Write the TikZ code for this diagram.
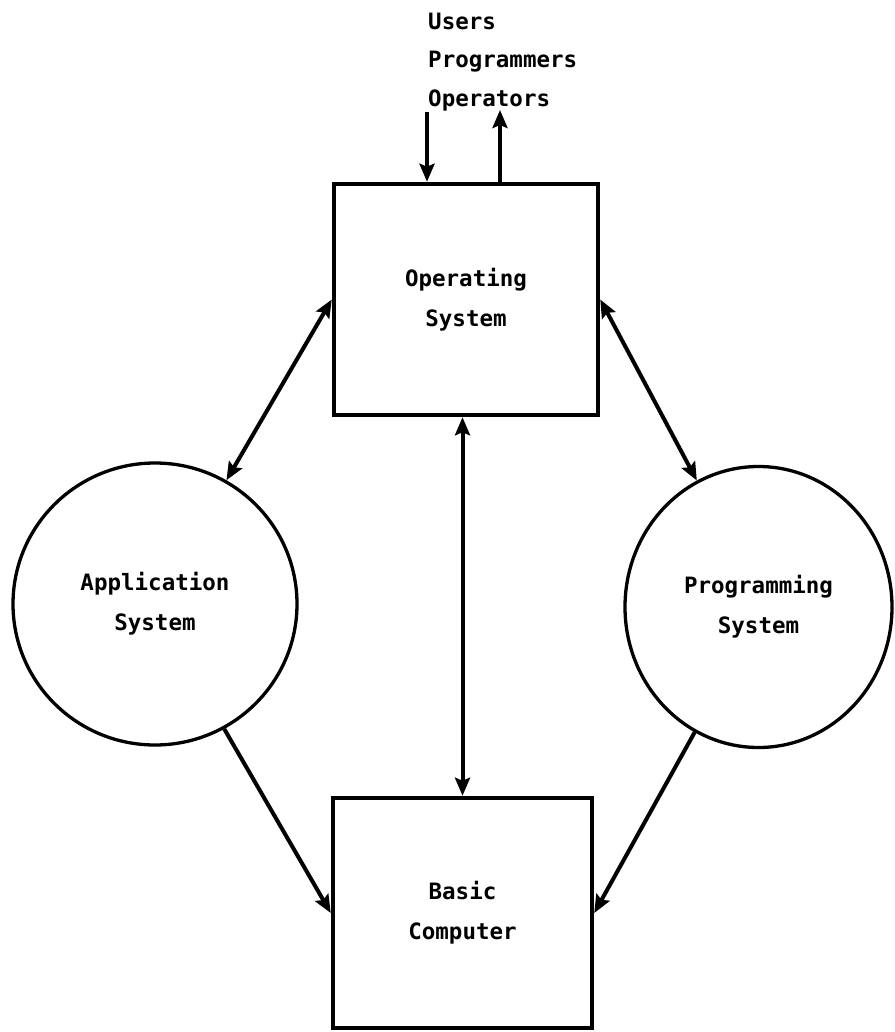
\documentclass[tikz,border=0pt]{standalone}
\usepackage{fontspec}
\setmonofont{DejaVu Sans Mono}
\usetikzlibrary{arrows.meta,shapes.geometric}
\begin{document}
\begin{tikzpicture}[x=1pt,y=-1pt,
  >={Stealth[length=18pt,width=15pt,inset=3pt]},
  lbl/.style={font=\ttfamily\bfseries\fontsize{22.5}{40}\selectfont},
  blk/.style={draw, line width=4.5pt, inner sep=0pt, align=center, lbl},
  bub/.style={draw, ellipse, line width=3.3pt, inner sep=0pt, align=center, lbl},
  conn/.style={line width=4pt}
]
\useasboundingbox (0,0) rectangle (894,1032);

% blocks and bubbles
\node[blk, minimum width=264pt, minimum height=231pt] (os) at (466,299.5) {Operating\\System};
\node[blk, minimum width=259pt, minimum height=230pt] (bc) at (462.5,913) {Basic\\Computer};
\node[bub, minimum width=284pt, minimum height=282pt] (app) at (155,604) {Application\\System};
\node[bub, minimum width=267pt, minimum height=281pt] (prog) at (758.5,607) {Programming\\System};

% people at the console
\node[lbl, anchor=base west, inner sep=0pt] (users) at (428,30) {Users};
\node[lbl, anchor=base west, inner sep=0pt] (progs) at (428,68) {Programmers};
\node[lbl, anchor=base west, inner sep=0pt] (ops) at (428,107) {Operators};

\coordinate (in) at (427,112);
\coordinate (out) at (500,110);
\draw[conn,->] (in) -- (in |- os.north);
\draw[conn,->] (out |- os.north) -- (out);

% links between the parts
\draw[conn,<->] (os.west) -- (app.60);
\draw[conn,<->] (os.east) -- (prog.116);
\draw[conn,<->] (bc.north |- os.south) -- (bc.north);
\draw[conn,->] (app.-61) -- (bc.west);
\draw[conn,->] (prog.-117) -- (bc.east);
\end{tikzpicture}
\end{document}
